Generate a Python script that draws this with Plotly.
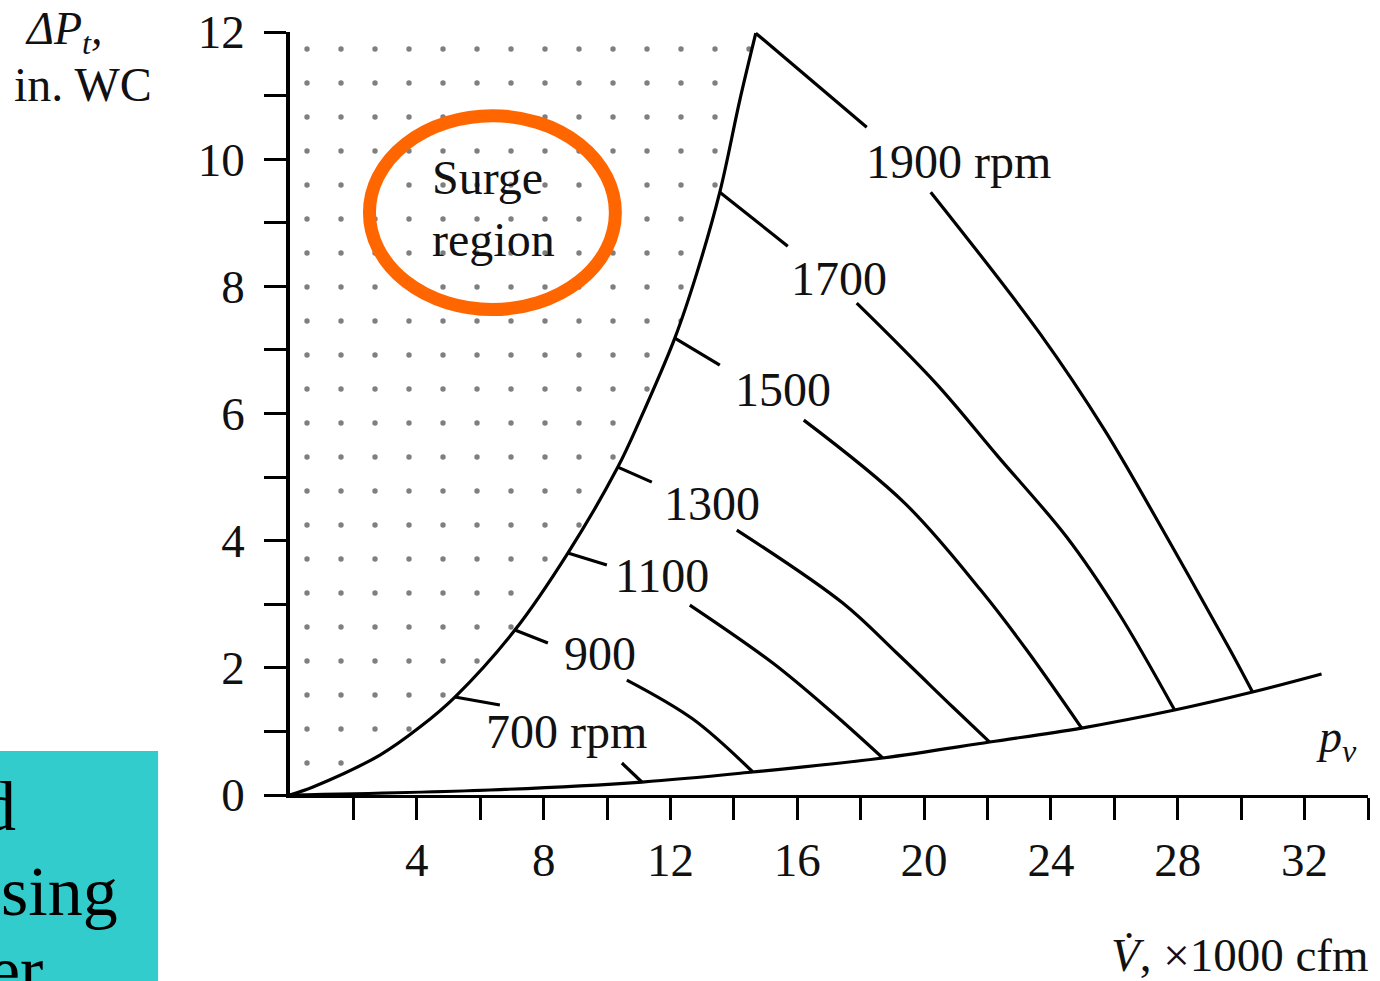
import plotly.graph_objects as go

# ---------------- data ----------------
# surge line (peak-pressure locus)
surge_x = [0, 0.725, 2.837, 4.098, 5.202, 7.093, 8.764, 10.340, 11.034, 12.137, 12.831, 13.556, 14.187, 14.691]
surge_y = [0, 0.126, 0.629, 1.069, 1.541, 2.594, 3.805, 5.157, 5.896, 7.186, 8.208, 9.481, 10.928, 11.981]

# velocity-pressure line p_v
pv_x = [0, 6.305, 11.097, 14.597, 18.695, 22.068, 24.968, 27.900, 30.359, 32.535]
pv_y = [0, 0.079, 0.204, 0.362, 0.582, 0.833, 1.053, 1.336, 1.619, 1.903]

# fan curves (None = break where the label sits)
rpm_700_x = [5.202, 6.620, None, 10.467, 11.097]
rpm_700_y = [1.541, 1.415, None, 0.503, 0.204]
rpm_900_x = [7.093, 8.134, None, 10.624, 12.705, 14.597]
rpm_900_y = [2.594, 2.390, None, 1.808, 1.195, 0.362]
rpm_1100_x = [8.764, 9.994, None, 12.610, 15.227, 17.119, 18.695]
rpm_1100_y = [3.805, 3.616, None, 2.987, 2.075, 1.289, 0.582]
rpm_1300_x = [10.340, 11.412, None, 14.092, 17.434, 19.136, 20.902, 22.068]
rpm_1300_y = [5.157, 4.921, None, 4.167, 3.019, 2.233, 1.384, 0.833]
rpm_1500_x = [12.137, 13.556, None, 16.204, 19.388, 21.784, 23.235, 24.968]
rpm_1500_y = [7.186, 6.761, None, 5.896, 4.591, 3.223, 2.280, 1.053]
rpm_1700_x = [13.556, 15.700, None, 17.875, 20.366, 22.320, 24.496, 26.135, 27.900]
rpm_1700_y = [9.481, 8.632, None, 7.736, 6.478, 5.330, 4.057, 2.862, 1.336]
rpm_1900_x = [14.691, 18.190, None, 20.208, 23.644, 25.694, 27.743, 29.634, 30.359]
rpm_1900_y = [11.981, 10.503, None, 9.481, 7.264, 5.739, 3.978, 2.296, 1.619]

curves = [
    (rpm_700_x, rpm_700_y), (rpm_900_x, rpm_900_y), (rpm_1100_x, rpm_1100_y),
    (rpm_1300_x, rpm_1300_y), (rpm_1500_x, rpm_1500_y), (rpm_1700_x, rpm_1700_y),
    (rpm_1900_x, rpm_1900_y),
]

rpm_labels = ["700 rpm", "900", "1100", "1300", "1500", "1700", "1900 rpm"]
rpm_label_x = [8.73, 9.77, 11.72, 13.32, 15.54, 17.31, 21.10]
rpm_label_y = [1.006, 2.23, 3.46, 4.59, 6.37, 8.13, 9.97]

x_tick_vals = [2, 4, 6, 8, 10, 12, 14, 16, 18, 20, 22, 24, 26, 28, 30, 32, 34]
x_tick_text = ["", "4", "", "8", "", "12", "", "16", "", "20", "", "24", "", "28", "", "32", ""]
y_tick_vals = [0, 1, 2, 3, 4, 5, 6, 7, 8, 9, 10, 11, 12]
y_tick_text = ["0", "", "2", "", "4", "", "6", "", "8", "", "10", "", "12"]

# ---------------- figure ----------------
W, H = 1380, 981
L, R, T, B = 290, 11.5, 32, 186
PW, PH = W - L - R, H - T - B
FONT = "Liberation Serif, Times New Roman, serif"


def px_x(p):
    return (p - L) / PW


def px_y(p):
    return (H - B - p) / PH


fig = go.Figure()

# stippled surge region
fig.add_trace(go.Scatter(
    x=[0] + surge_x + [0], y=[0] + surge_y + [12],
    mode="lines", fill="toself", line=dict(width=0, color="rgba(0,0,0,0)"),
    fillcolor="white",
    fillpattern=dict(shape=".", size=34, solidity=0.02, fgcolor="black",
                     bgcolor="white"),
    hoverinfo="skip", showlegend=False,
))

LW = 3.2
SM = 1.0
fig.add_trace(go.Scatter(x=surge_x, y=surge_y, mode="lines",
                         line=dict(color="black", width=LW, shape="spline", smoothing=SM),
                         showlegend=False, hoverinfo="skip"))
fig.add_trace(go.Scatter(x=pv_x, y=pv_y, mode="lines",
                         line=dict(color="black", width=LW, shape="spline", smoothing=SM),
                         showlegend=False, hoverinfo="skip"))
for cx, cy in curves:
    fig.add_trace(go.Scatter(x=cx, y=cy, mode="lines",
                             line=dict(color="black", width=LW, shape="spline", smoothing=SM),
                             showlegend=False, hoverinfo="skip"))

annotations = []
for t, ax_, ay_ in zip(rpm_labels, rpm_label_x, rpm_label_y):
    annotations.append(dict(x=ax_, y=ay_, xref="x", yref="y", text=t, showarrow=False,
                            font=dict(family=FONT, size=48, color="#111"),
                            xanchor="center", yanchor="middle"))

# Surge region text
annotations.append(dict(x=4.414, y=9.217, xref="x", yref="y", text="Surge<br>region",
                        showarrow=False, align="left", xanchor="left", yanchor="middle",
                        font=dict(family=FONT, size=48, color="#111")))
# p_v label
annotations.append(dict(x=px_x(1337), y=px_y(740), xref="paper", yref="paper",
                        text="<i>p<sub>v</sub></i>", showarrow=False, xanchor="center",
                        yanchor="middle", font=dict(family=FONT, size=46, color="#111")))
# axis titles
annotations.append(dict(x=px_x(24), y=px_y(32), xref="paper", yref="paper",
                        text="<i>ΔP<sub>t</sub>,</i>", showarrow=False, xanchor="left",
                        yanchor="middle", borderpad=0,
                        font=dict(family=FONT, size=46, color="#111")))
annotations.append(dict(x=px_x(13), y=px_y(84), xref="paper", yref="paper",
                        text="in. WC", showarrow=False, xanchor="left",
                        yanchor="middle", borderpad=0,
                        font=dict(family=FONT, size=48, color="#111")))
annotations.append(dict(x=px_x(1372), y=px_y(955), xref="paper", yref="paper",
                        text="<i>V\u0307</i>, ×1000 cfm", showarrow=False, xanchor="right",
                        yanchor="middle", font=dict(family=FONT, size=47, color="#111")))
# teal box text (clipped slide text)
for t, rx, cy in [("d", 18, 806), ("sing", 120, 891), ("er", 45, 970)]:
    annotations.append(dict(x=px_x(rx), y=px_y(cy), xref="paper", yref="paper",
                            text=t, showarrow=False, xanchor="right", yanchor="middle",
                            font=dict(family=FONT, size=70, color="black")))

shapes = [
    dict(type="rect", xref="paper", yref="paper", x0=px_x(-5), x1=px_x(158),
         y0=px_y(990), y1=px_y(751), fillcolor="#33CCCC", line=dict(width=0), layer="below"),
    dict(type="circle", xref="x", yref="y", x0=2.506, x1=10.262, y0=7.634, y1=10.684,
         line=dict(color="#FF6600", width=13), layer="above"),
]

fig.update_layout(
    width=W, height=H,
    margin=dict(l=L, r=R, t=T, b=B, pad=0),
    paper_bgcolor="white", plot_bgcolor="white",
    showlegend=False,
    annotations=annotations,
    shapes=shapes,
    font=dict(family=FONT, color="#111"),
)
fig.update_xaxes(range=[0, 34], showgrid=False, zeroline=False, showline=True,
                 linecolor="black", linewidth=3, ticks="outside", ticklen=22, tickwidth=3,
                 tickcolor="black", tickvals=x_tick_vals, ticktext=x_tick_text,
                 tickfont=dict(family=FONT, size=47, color="#111"),
                 ticklabelstandoff=0, automargin=False)
fig.update_yaxes(range=[0, 12], showgrid=False, zeroline=False, showline=True,
                 linecolor="black", linewidth=3.5, ticks="outside", ticklen=22, tickwidth=3,
                 tickcolor="black", tickvals=y_tick_vals, ticktext=y_tick_text,
                 tickfont=dict(family=FONT, size=47, color="#111"),
                 ticklabelstandoff=10, automargin=False)

fig.write_html("out.html", config={"displayModeBar": False},
               post_script="document.body.style.margin='0px';")
